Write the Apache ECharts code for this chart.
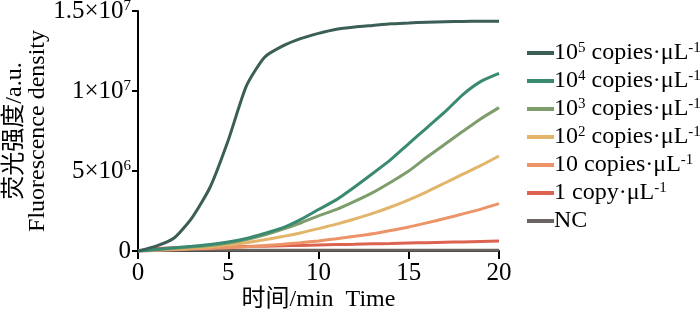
<!DOCTYPE html>
<html>
<head>
<meta charset="utf-8">
<script src="https://cdn.jsdelivr.net/npm/echarts@6/dist/echarts.min.js"></script>
<style>
  html, body { margin: 0; padding: 0; background: #fff; }
  #chart { width: 700px; height: 311px; }
</style>
</head>
<body>
<div id="chart"></div>
<script>
// Temps en minutes
const minutes = [0,1,2,3,4,5,6,7,8,9,10,11,12,13,14,15,16,17,18,19,20];

// Intensité de fluorescence (x 10^6)
const c1e5 = [0,0.3,0.81,2.09,4.0,6.92,10.3,12.1,12.8,13.27,13.6,13.86,14.0,14.1,14.2,14.25,14.3,14.33,14.35,14.36,14.36];
const c1e4 = [0,0.1,0.2,0.29,0.4,0.56,0.78,1.09,1.44,1.96,2.59,3.21,4.0,4.84,5.71,6.71,7.7,8.69,9.78,10.6,11.1];
const c1e3 = [0,0.08,0.17,0.25,0.35,0.5,0.72,1.0,1.35,1.75,2.2,2.6,3.1,3.65,4.3,5.0,5.86,6.67,7.48,8.27,8.96];
const c1e2 = [0,0.06,0.12,0.19,0.27,0.38,0.52,0.7,0.9,1.13,1.4,1.68,2.0,2.35,2.75,3.2,3.7,4.25,4.8,5.35,5.94];
const c10 = [0,0.04,0.08,0.12,0.16,0.21,0.27,0.34,0.42,0.52,0.63,0.77,0.92,1.08,1.28,1.5,1.76,2.03,2.32,2.62,2.96];
const c1 = [0,0.15,0.2,0.22,0.24,0.26,0.28,0.3,0.33,0.35,0.38,0.4,0.42,0.45,0.47,0.5,0.52,0.55,0.57,0.6,0.62];
const cNC = [0,0.03,0.04,0.04,0.04,0.04,0.04,0.04,0.04,0.04,0.04,0.04,0.04,0.04,0.04,0.04,0.04,0.04,0.04,0.04,0.04];

const seriesNames = ['1e5', '1e4', '1e3', '1e2', '10', '1', 'NC'];
const legendLabels = [
  '10{sup|5} copies·μL{sup|-1}',
  '10{sup|4} copies·μL{sup|-1}',
  '10{sup|3} copies·μL{sup|-1}',
  '10{sup|2} copies·μL{sup|-1}',
  '10 copies·μL{sup|-1}',
  '1 copy·μL{sup|-1}',
  'NC'
];
const seriesData = [c1e5, c1e4, c1e3, c1e2, c10, c1, cNC];
const colors = ['#3b5e57', '#3a8a72', '#7e9d6c', '#e2b56b', '#ec9468', '#dc6350', '#6a6462'];

// Graduations de l'axe Y
const yTicks = [0, 5e6, 1e7, 1.5e7];
const yTickLabels = ['0', '5×10{sup|6}', '1×10{sup|7}', '1.5×10{sup|7}'];

const serif = 'Liberation Serif, Times New Roman, serif';
const serifCJK = 'Liberation Serif, Noto Sans CJK SC, serif';
const supStyle = { fontSize: 15, fontFamily: serif, color: '#000', verticalAlign: 'top', lineHeight: 22 };

const chart = echarts.init(document.getElementById('chart'));

chart.setOption({
  animation: false,
  color: colors,
  textStyle: { fontFamily: serif },
  grid: { left: 138, right: 201, top: 11, bottom: 60, outerBoundsMode: 'none' },
  legend: {
    orient: 'vertical',
    left: 522,
    top: 36,
    icon: 'rect',
    itemWidth: 27,
    itemHeight: 4,
    itemGap: 4,
    data: seriesNames,
    formatter: function (name) {
      return legendLabels[seriesNames.indexOf(name)];
    },
    textStyle: {
      fontFamily: serif,
      fontSize: 24,
      color: '#000',
      lineHeight: 24,
      padding: [0, 0, 0, -5],
      rich: { sup: supStyle }
    }
  },
  xAxis: {
    type: 'value',
    min: 0,
    max: 20,
    interval: 5,
    name: '时间/min  Time',
    nameLocation: 'middle',
    nameGap: 37,
    nameMoveOverlap: false,
    nameTextStyle: { fontFamily: serifCJK, fontSize: 24, color: '#000' },
    axisLine: { show: true, lineStyle: { color: '#000', width: 2 } },
    axisTick: { show: true, length: 8, lineStyle: { color: '#000', width: 2 } },
    axisLabel: { fontFamily: serif, fontSize: 25, color: '#000', margin: 10 },
    splitLine: { show: false }
  },
  yAxis: {
    type: 'value',
    min: 0,
    max: 1.5e7,
    interval: 5e6,
    name: '荧光强度/a.u.\nFluorescence density',
    nameLocation: 'middle',
    nameRotate: 90,
    nameGap: 89,
    nameMoveOverlap: false,
    nameTextStyle: { fontFamily: serifCJK, fontSize: 24, color: '#000', lineHeight: 23 },
    axisLine: { show: true, lineStyle: { color: '#000', width: 2 } },
    axisTick: { show: true, length: 6, lineStyle: { color: '#000', width: 2 } },
    axisLabel: {
      fontFamily: serif,
      fontSize: 25,
      color: '#000',
      margin: 7,
      formatter: function (v) {
        return yTickLabels[yTicks.indexOf(v)];
      },
      rich: { sup: supStyle }
    },
    splitLine: { show: false }
  },
  series: seriesNames.map(function (name, i) {
    return {
      name: name,
      type: 'line',
      showSymbol: false,
      smooth: 0.2,
      z: 10 - i,
      lineStyle: { width: 3 },
      data: minutes.map(function (m, j) { return [m, seriesData[i][j] * 1e6]; })
    };
  })
});
</script>
</body>
</html>
